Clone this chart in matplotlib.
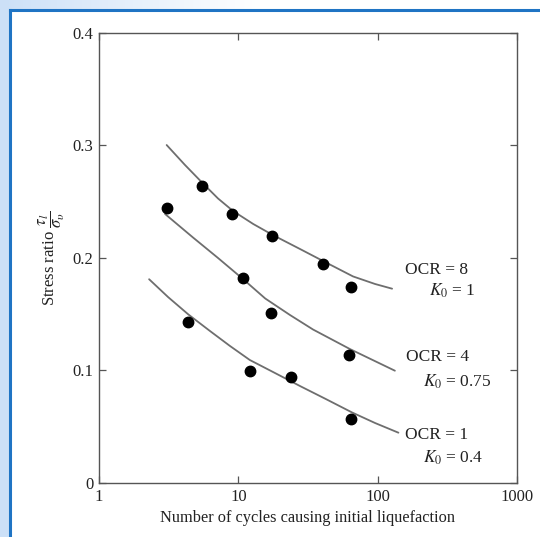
import numpy as np
import matplotlib
matplotlib.use('Agg')
import matplotlib.pyplot as plt
from matplotlib.ticker import FixedLocator, FixedFormatter

plt.rcParams['font.family'] = ['Liberation Serif', 'DejaVu Serif']
plt.rcParams['mathtext.fontset'] = 'stix'

# measured points (cycles, stress ratio)
ocr8_n = [5.53, 9.06, 17.5, 40.5, 64.1]
ocr8_r = [0.264, 0.239, 0.2196, 0.1944, 0.174]
ocr4_n = [3.07, 10.8, 17.2, 61.8]
ocr4_r = [0.2443, 0.1825, 0.1514, 0.1135]
ocr1_n = [4.34, 12.1, 23.8, 64.1]
ocr1_r = [0.1428, 0.0998, 0.0942, 0.0566]

# fitted curves
curve8_n = [3.06, 4.14, 5.58, 7.15, 9.16, 12.8, 17.7, 27.7, 40.6, 66.6, 95.7, 127]
curve8_r = [0.3004, 0.2827, 0.2662, 0.2529, 0.2418, 0.2302, 0.2204, 0.2080, 0.1973, 0.1836, 0.1769, 0.1727]
curve4_n = [2.98, 4.73, 7.15, 10.8, 15.6, 23.5, 34.4, 63.4, 133]
curve4_r = [0.2391, 0.2182, 0.2000, 0.1813, 0.1640, 0.1493, 0.1364, 0.1190, 0.0998]
curve1_n = [2.29, 3.13, 4.38, 6.26, 8.71, 12.1, 18.3, 27.7, 41.9, 65.5, 95.9, 141]
curve1_r = [0.1811, 0.1653, 0.1498, 0.1351, 0.1218, 0.1093, 0.0978, 0.0862, 0.0750, 0.0627, 0.0533, 0.0447]

labels = [('OCR = 8', '$K_0$ = 1'), ('OCR = 4', '$K_0$ = 0.75'), ('OCR = 1', '$K_0$ = 0.4')]

xticks = [1, 10, 100, 1000]
xticklabels = ['1', '10', '100', '1000']
yticks = [0, 0.1, 0.2, 0.3, 0.4]
yticklabels = ['0', '0.1', '0.2', '0.3', '0.4']

fig = plt.figure(figsize=(5.40, 5.37), dpi=100, facecolor='white')

# blue frame background
H, W = 537, 540
bg = np.ones((H, W, 3))
light = np.array([0.80, 0.88, 0.97])
xs = np.arange(W)
fade = np.clip(1 - xs / 260.0, 0, 1)[None, :, None]
bg[:9, :, :] = 1 - fade * (1 - light)
bg[:, :9, :] = light
bax = fig.add_axes([0, 0, 1, 1], zorder=-10)
bax.imshow(bg, extent=[0, W, H, 0], aspect='auto')
bax.plot([10, W], [10, 10], color='#1f74c4', lw=2.2)
bax.plot([10, 10], [10, H], color='#1f74c4', lw=2.2)
bax.set_xlim(0, W)
bax.set_ylim(H, 0)
bax.axis('off')

ax = fig.add_axes([0.1833, 0.1006, 0.774, 0.838])
ax.set_xscale('log')
ax.set_xlim(1, 1000)
ax.set_ylim(0, 0.4)

lc = '#6e6e6e'
for cn, cr in [(curve8_n, curve8_r), (curve4_n, curve4_r), (curve1_n, curve1_r)]:
    ax.plot(cn, cr, color=lc, lw=1.3, solid_capstyle='round', solid_joinstyle='round')
for pn, pr in [(ocr8_n, ocr8_r), (ocr4_n, ocr4_r), (ocr1_n, ocr1_r)]:
    ax.plot(pn, pr, 'o', color='black', ms=7.5, ls='none')

# curve labels
pos = [((158, 0.189), (232, 0.171)), ((160, 0.112), (212, 0.090)), ((156, 0.043), (210, 0.022))]
for (l1, l2), ((x1, y1), (x2, y2)) in zip(labels, pos):
    ax.text(x1, y1, l1, fontsize=12.5, va='center', ha='left', color='#222222')
    ax.text(x2, y2, l2, fontsize=12.5, va='center', ha='left', color='#222222')

ax.xaxis.set_major_locator(FixedLocator(xticks))
ax.xaxis.set_major_formatter(FixedFormatter(xticklabels))
ax.xaxis.set_minor_locator(FixedLocator([]))
ax.set_yticks(yticks)
ax.set_yticklabels(yticklabels)
ax.tick_params(direction='in', length=5, width=0.9, color='#555555',
               labelsize=12, labelcolor='#222222', top=True, right=True, pad=4)
for s in ax.spines.values():
    s.set_color('#555555')
    s.set_linewidth(1.0)

ax.set_xlabel('Number of cycles causing initial liquefaction', fontsize=11.8, color='#222222', labelpad=4)
ax.set_ylabel(r'Stress ratio $\dfrac{\tau_l}{\sigma_\upsilon}$', fontsize=12, color='#222222', labelpad=4)

fig.savefig('out.png', dpi=100, facecolor='white')
